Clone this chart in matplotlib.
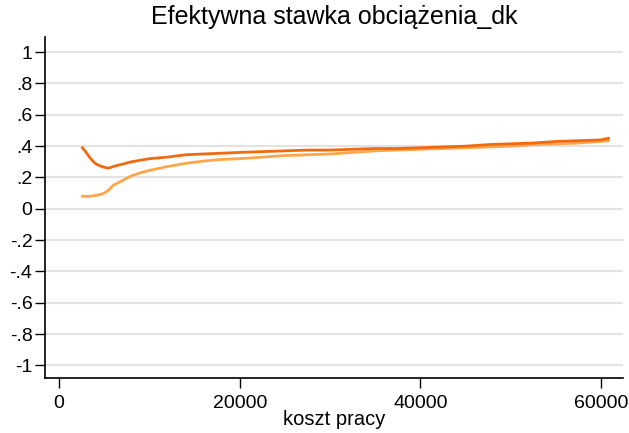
import numpy as np
import matplotlib
matplotlib.use("Agg")
import matplotlib.pyplot as plt

plt.rcParams['font.family'] = ['Liberation Sans', 'DejaVu Sans']

# koszt pracy (os X)
koszt = [2600, 3000, 3500, 4000, 4500, 5000, 5500, 6000, 7000, 8000, 9000,
         10000, 12000, 14000, 16000, 18000, 20000, 22500, 25000, 27500, 30000,
         32500, 35000, 37500, 40000, 42500, 45000, 47500, 50000, 52500, 55000,
         57500, 60000, 60800]

# seria ciemna
stawka_1 = [0.39, 0.36, 0.32, 0.29, 0.275, 0.265, 0.26, 0.27, 0.285, 0.30, 0.31,
            0.32, 0.33, 0.345, 0.35, 0.355, 0.36, 0.365, 0.37, 0.375, 0.375,
            0.38, 0.385, 0.385, 0.39, 0.395, 0.40, 0.41, 0.415, 0.42, 0.43,
            0.435, 0.44, 0.45]

# seria jasna
stawka_2 = [0.08, 0.08, 0.08, 0.085, 0.09, 0.10, 0.12, 0.15, 0.18, 0.21, 0.23,
            0.245, 0.27, 0.29, 0.305, 0.315, 0.32, 0.33, 0.34, 0.345, 0.35,
            0.36, 0.37, 0.375, 0.38, 0.385, 0.39, 0.395, 0.40, 0.41, 0.415,
            0.42, 0.43, 0.435]

y_ticks = [-1, -0.8, -0.6, -0.4, -0.2, 0, 0.2, 0.4, 0.6, 0.8, 1]
y_labels = ['-1', '-.8', '-.6', '-.4', '-.2', '0', '.2', '.4', '.6', '.8', '1']
x_ticks = [0, 20000, 40000, 60000]

fig = plt.figure(figsize=(6.29, 4.33), dpi=100)
ax = fig.add_axes([45/629, 1 - 378/433, (623 - 45)/629, (378 - 36.5)/433])

ax.plot(koszt, stawka_1, color='#F26A10', linewidth=2.0, zorder=3)
ax.plot(koszt, stawka_2, color='#FFA64A', linewidth=2.0, zorder=2)

ax.set_xlim(-1550, 62420)
ax.set_ylim(-1.08, 1.1)
ax.set_yticks(y_ticks)
ax.set_yticklabels(y_labels)
ax.set_xticks(x_ticks)
ax.set_xticklabels([str(t) for t in x_ticks])

ax.grid(axis='y', color='#E3E3E3', linewidth=1.5)
ax.set_axisbelow(True)
for s in ['top', 'right']:
    ax.spines[s].set_visible(False)
ax.spines['left'].set_linewidth(1.2)
ax.spines['bottom'].set_linewidth(1.2)

ax.tick_params(axis='both', labelsize=14, length=7, width=1.0, direction='out')
ax.tick_params(axis='y', pad=2)
ax.tick_params(axis='x', pad=5)

ax.set_xlabel('koszt pracy', fontsize=14.5, labelpad=-1)
ax.set_title('Efektywna stawka obciążenia_dk', fontsize=18, pad=9)

fig.savefig('out.png', dpi=100, facecolor='white')
